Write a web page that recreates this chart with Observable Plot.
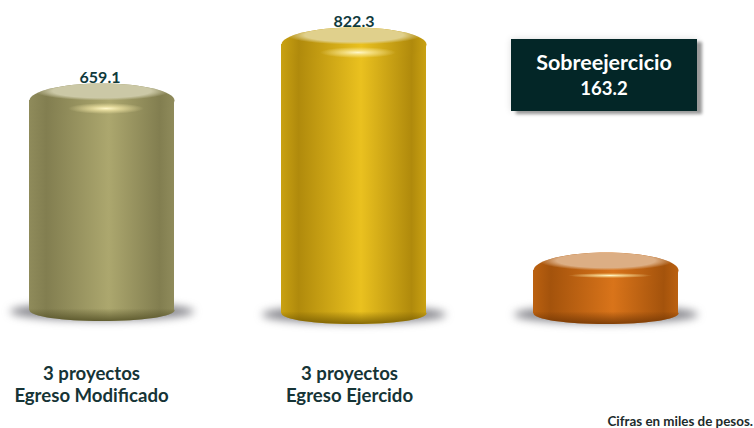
<!DOCTYPE html>
<html><head><meta charset="utf-8">
<style>
html,body{margin:0;padding:0;background:#fff;width:754px;height:428px;overflow:hidden}
#wrap{position:relative;width:754px;height:428px;font-family:Lato,sans-serif}
#wrap svg{position:absolute;left:0;top:0;font-family:Lato,sans-serif}
#box{position:absolute;left:511px;top:39px;width:186px;height:72px;background:#032627;color:#fff;text-align:center;font-weight:700;box-shadow:5px 3px 3px #9a9a9a,0 0 7px #ddd}
#box .a{font-size:21.5px;line-height:26px;margin-top:10px}
#box .b{font-size:18.5px;line-height:24px;margin-top:1px}
#note{position:absolute;right:1px;top:414.5px;font-size:13.4px;font-weight:700;color:#1c2b2b;line-height:13px;white-space:nowrap}
</style>
<script src="https://cdn.jsdelivr.net/npm/d3@7"></script>
<script src="https://cdn.jsdelivr.net/npm/@observablehq/plot@0.6"></script>
</head><body><div id="wrap">
<div id="box"><div class="a" id="boxTitle"></div><div class="b" id="boxValue"></div></div>
<div id="note"></div>
</div>
<script>
const categories = ["Egreso Modificado", "Egreso Ejercido", "Sobreejercicio"];
const values = [659.1, 822.3, 163.2];
const labels = ["3 proyectos\nEgreso Modificado", "3 proyectos\nEgreso Ejercido", ""];
const valueLabels = ["659.1", "822.3", ""];
const noteText = "Cifras en miles de pesos.";
const palettes = [
  {edge:"#827e50", dark:"#8f8b5b", mid:"#aca76e", top:"#cbc8a6", low:"#4f4c22"},
  {edge:"#b08a0c", dark:"#c9a112", mid:"#eac11f", top:"#e0d08c", low:"#6e5500"},
  {edge:"#a4530c", dark:"#bb6110", mid:"#d9741a", top:"#dcae84", low:"#6a3203"}
];

document.getElementById("boxTitle").textContent = categories[2];
document.getElementById("boxValue").textContent = values[2].toFixed(1);
document.getElementById("note").textContent = noteText;

const rows = categories.map((c, i) => ({c, v: values[i], label: labels[i], text: valueLabels[i], i}));

function ellipse(rx, ry) {
  const k = 0.5523;
  return {draw(p) {
    p.moveTo(-rx, 0);
    p.bezierCurveTo(-rx, -ry*k, -rx*k, -ry, 0, -ry);
    p.bezierCurveTo(rx*k, -ry, rx, -ry*k, rx, 0);
    p.bezierCurveTo(rx, ry*k, rx*k, ry, 0, ry);
    p.bezierCurveTo(-rx*k, ry, -rx, ry*k, -rx, 0);
    p.closePath();
  }};
}

function defs() {
  const d = document.createElementNS("http://www.w3.org/2000/svg", "defs");
  d.innerHTML = palettes.map((c, i) => `
    <linearGradient id="body${i}" x1="0" x2="1" y1="0" y2="0">
      <stop offset="0" stop-color="${c.dark}"/><stop offset=".12" stop-color="${c.edge}"/>
      <stop offset=".55" stop-color="${c.mid}"/><stop offset=".9" stop-color="${c.edge}"/>
      <stop offset="1" stop-color="${c.dark}"/>
    </linearGradient>
    <radialGradient id="surf${i}" cx="0" cy="0" r="1" gradientTransform="translate(.5,.22) scale(.47,.28)">
      <stop offset="0" stop-color="${c.top}"/><stop offset=".72" stop-color="${c.top}"/>
      <stop offset="1" stop-color="${c.top}" stop-opacity="0"/>
    </radialGradient>
    <linearGradient id="foot${i}" x1="0" x2="0" y1="0" y2="1">
      <stop offset=".4" stop-color="${c.low}" stop-opacity="0"/>
      <stop offset="1" stop-color="${c.low}" stop-opacity=".8"/>
    </linearGradient>`).join("") + `
    <radialGradient id="shine">
      <stop offset="0" stop-color="#fff7c8" stop-opacity="1"/>
      <stop offset=".4" stop-color="#fff2b0" stop-opacity=".6"/>
      <stop offset="1" stop-color="#fff2b0" stop-opacity="0"/>
    </radialGradient>`;
  return d;
}

const X = d => d.c;
const marks = [defs];
rows.forEach(row => {
  const one = [row], i = row.i, small = row.v < 300;
  const lift = i === 0 ? 3 : 0;
  marks.push(
    Plot.dot(one, {x: X, y: () => 0, dy: 1 - lift, symbol: ellipse(92, 9), fill: "#5a5a62", fillOpacity: .72, stroke: "none", imageFilter: "blur(4px)"}),
    Plot.dot(one, {x: X, y: () => 0, dy: -lift, symbol: ellipse(72.5, 10.5), fill: `url(#body${i})`, stroke: "none"}),
    Plot.barY(one, {x: X, y: "v", fill: `url(#body${i})`, insetTop: 13, insetBottom: lift}),
    Plot.dot(one, {x: X, y: () => 0, dy: -lift, symbol: ellipse(72.5, 10.5), fill: `url(#foot${i})`, stroke: "none"}),
    Plot.dot(one, {x: X, y: "v", dy: 13, symbol: ellipse(72.5, small ? 18 : 17), fill: `url(#body${i})`, stroke: "none"}),
    Plot.dot(one, {x: X, y: "v", dy: 13, symbol: ellipse(72.5, small ? 18 : 17), fill: `url(#surf${i})`, stroke: "none"}),
    Plot.dot(one, {x: X, y: "v", dy: small ? 18 : 21, dx: 4, symbol: ellipse(small ? 42 : 38, small ? 2.5 : 5.5), fill: "url(#shine)", stroke: "none"})
  );
});
marks.push(
  Plot.text(rows.filter(d => d.i === 0), {x: X, y: "v", text: "text", dx: -2, dy: -10, fontSize: 16, fontWeight: 700, fill: "#103a3c"}),
  Plot.text(rows.filter(d => d.i === 1), {x: X, y: "v", text: "text", dy: -10, fontSize: 16, fontWeight: 700, fill: "#103a3c"}),
  Plot.text(rows.filter(d => d.i === 0), {x: X, y: () => 0, text: "label", dx: -10.5, dy: 70, fontSize: 18.6, fontWeight: 700, fill: "#163436", lineHeight: 1.18}),
  Plot.text(rows.filter(d => d.i === 1), {x: X, y: () => 0, text: "label", dx: -4.5, dy: 70, fontSize: 18.6, fontWeight: 700, fill: "#163436", lineHeight: 1.18})
);

const chart = Plot.plot({
  width: 754, height: 428,
  margin: 0,
  x: {domain: categories, range: [-78, 785], padding: 0.4246, axis: null},
  y: {domain: [0, 822.3], range: [313, 31], axis: null},
  marks
});
document.getElementById("wrap").prepend(chart);
</script>
</body></html>
